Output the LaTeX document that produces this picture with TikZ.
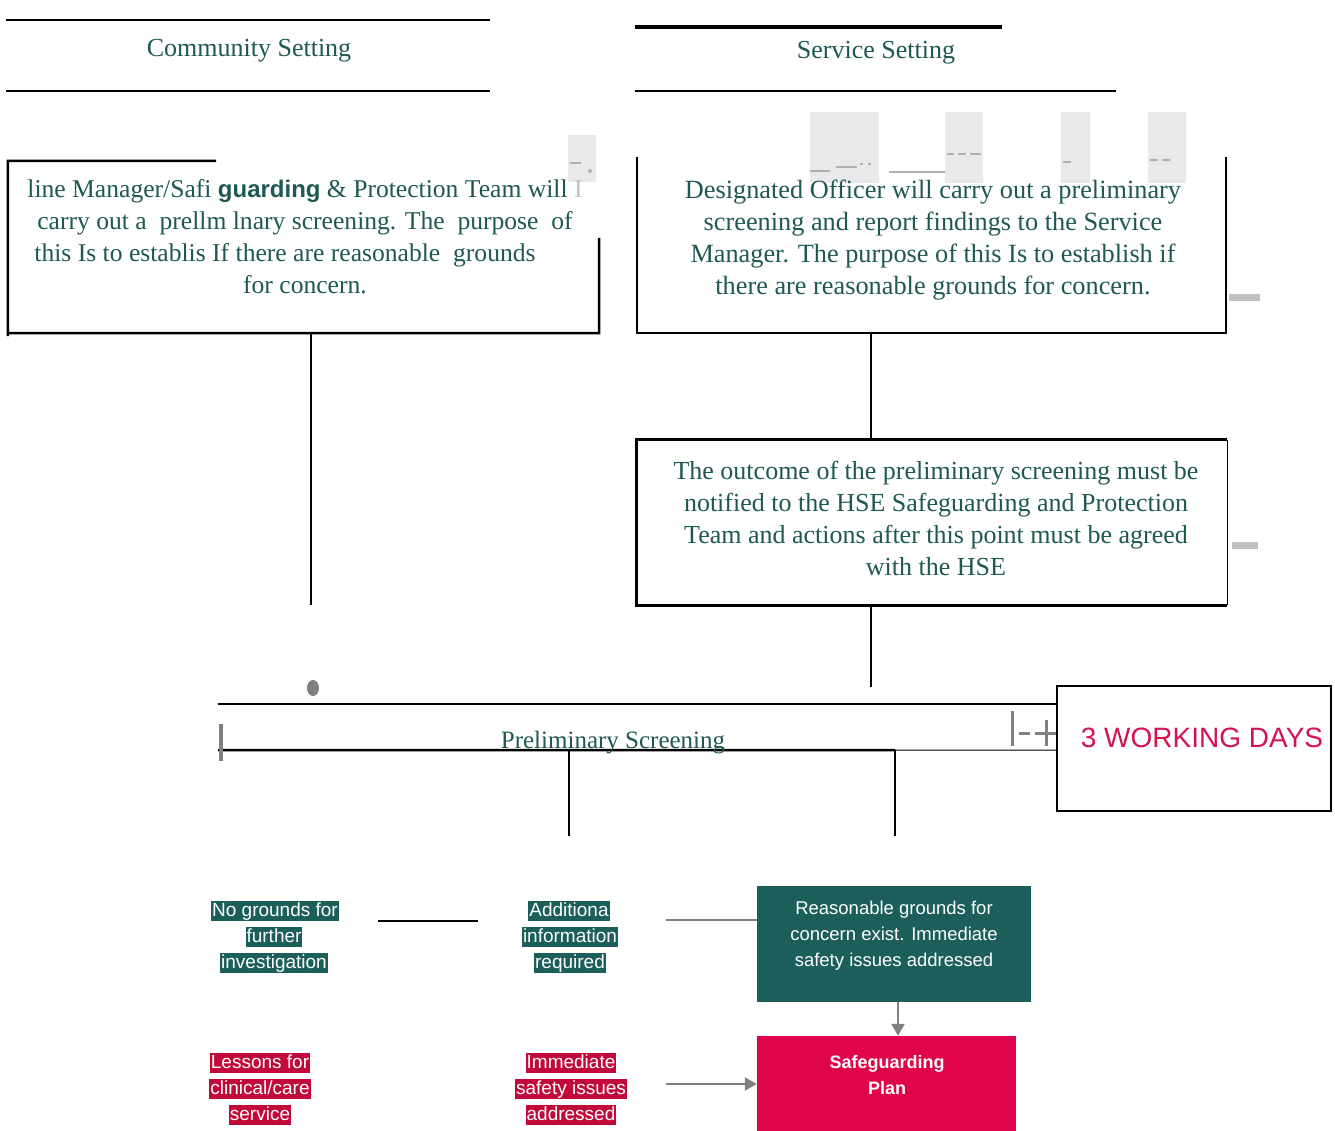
\documentclass[tikz,border=0pt]{standalone}
\usepackage{fontspec}
\setmainfont{Liberation Serif}
\newfontfamily\arialf{Liberation Sans}
\usetikzlibrary{arrows.meta}
\definecolor{teal1}{HTML}{1E5853}
\definecolor{tealbg}{HTML}{1B5E5A}
\definecolor{crim}{HTML}{C2093B}
\definecolor{crimbox}{HTML}{E0044A}
\definecolor{redtxt}{HTML}{D3124E}
\definecolor{artgray}{HTML}{E9E9EB}
\definecolor{dashgray}{HTML}{B0B0B0}
\definecolor{midgray}{HTML}{808080}
\tikzset{
  serif/.style={font=\fontsize{26}{32}\selectfont, text=teal1, align=center, inner sep=0pt},
  blk/.style={line width=2.5pt, draw=black},
  boxarea/.style={draw=none, inner sep=0pt},
  tag/.style={font=\arialf\fontsize{19}{22}\selectfont, text=white, inner xsep=1pt, inner ysep=0pt, text height=15pt, text depth=4.5pt},
  tealtag/.style={tag, fill=tealbg},
  redtag/.style={tag, fill=crim},
  artrect/.style={fill=artgray, draw=none},
  artdash/.style={draw=dashgray, line width=2.5pt},
  grayconn/.style={draw=midgray, line width=2.2pt},
  graytip/.style={-{Triangle[length=12pt,width=13pt]}}
}
\begin{document}
\begin{tikzpicture}[x=1pt,y=-1pt]
\useasboundingbox (0,0) rectangle (1335,1131);

% artifacts
\fill[artgray] (568,135) rectangle (596,182);
\fill[artgray] (810,112) rectangle (879,183);
\fill[artgray] (945,112) rectangle (983,183);
\fill[artgray] (1061,112) rectangle (1090,183);
\fill[artgray] (1148,112) rectangle (1186,183);
\draw[artdash] (570,163) -- (581,163);
\fill[dashgray] (590,171) circle (2);
\draw[artdash] (810,171) -- (830,171);
\draw[artdash,line width=1.2pt] (836,167) -- (857,167);
\draw[artdash] (860,164) -- (863,164) (868,164) -- (871,164);
\draw[artdash] (889,172) -- (945,172);
\draw[artdash] (947,154) -- (954,154) (958,154) -- (966,154) (970,154) -- (981,154);
\draw[artdash] (1063,162) -- (1071,162);
\draw[artdash,line width=2pt] (1150,160) -- (1158,160) (1162,160) -- (1170,160);
\fill[dashgray!80] (1229,294) rectangle (1260,301);
\fill[dashgray!80] (1232,542) rectangle (1258,549);

% headings
\draw[blk] (6,20) -- (490,20);
\draw[blk] (6,91) -- (490,91);
\node[serif] (comm) at (249,51) {Community Setting};
\draw[line width=4pt] (635,27) -- (1002,27);
\draw[blk] (635,91) -- (1116,91);
\node[serif] (serv) at (876,53) {Service Setting};

% left box
\node[boxarea, minimum width=591pt, minimum height=172pt] (lbox) at (303.5,247) {};
\draw[blk] (216,161) -- (lbox.north west) -- ([yshift=-3pt]lbox.south west);
\draw[blk] (lbox.south west) -- (lbox.south east) -- (599,238);
\node[serif, font=\fontsize{25.6}{32}\selectfont] (ltext) at (305,237) {line Manager/Safi {\arialf\bfseries\fontsize{24}{32}\selectfont guarding} \& Protection Team will {\color{gray!50}I}\\
carry out a\ \ prellm lnary screening. The\ \ purpose\ \ of\\
this Is to establis If there are reasonable\ \ grounds\rule{40pt}{0pt}\\
for concern.};

% right box
\node[boxarea, minimum width=589pt, minimum height=176pt] (rbox) at (931.5,245) {};
\draw[blk] (rbox.north west) -- (rbox.south west) -- (rbox.south east) -- (rbox.north east);
\node[serif, font=\fontsize{26.3}{32}\selectfont] (rtext) at (933,240) {Designated Officer will carry out a preliminary\\
screening and report findings to the Service\\
Manager. The purpose of this Is to establish if\\
there are reasonable grounds for concern.};

% middle box
\node[boxarea, minimum width=590pt, minimum height=165pt] (mbox) at (932,522.5) {};
\draw[line width=3pt] (mbox.north east) -- (mbox.north west) -- (mbox.south west) -- (mbox.south east);
\draw[line width=1pt] (mbox.north east) -- (mbox.south east);
\node[serif] (mtext) at (936,518) {The outcome of the preliminary screening must be\\
notified to the HSE Safeguarding and Protection\\
Team and actions after this point must be agreed\\
with the HSE};

% preliminary screening band
\node[boxarea, minimum width=839pt, minimum height=46pt] (ps) at (637.5,727) {};
\draw[blk] (ps.north west) -- (ps.north east);
\draw[blk] (ps.south west) -- (895,750);
\draw[line width=1pt] (895,750) -- (ps.south east);
\node[serif, font=\fontsize{25}{30}\selectfont] (pstext) at (613,743) {Preliminary Screening};
\fill[midgray] (313,688) ellipse (6 and 8);
\draw[line width=4pt, midgray] (221,724) -- (221,761);
\draw[line width=3pt, midgray] (1012,711) -- (1012,746);
\draw[line width=3pt, midgray] (1019,733) -- (1030,733) (1035,733) -- (1057,733) (1046,720) -- (1046,746);

% days box
\node[draw, line width=2.5pt, minimum width=274pt, minimum height=125pt] (days) at (1194,748.5) {};
\node[font=\arialf\fontsize{28}{32}\selectfont, text=redtxt] (daystext) at (1202,738) {3 WORKING DAYS};

% connectors
\coordinate (cx1) at (311,0);
\coordinate (cx2) at (871,0);
\coordinate (lend) at (311,605);
\draw[blk] (lbox.south -| cx1) -- (lend);
\draw[blk] (rbox.south -| cx2) -- (mbox.north -| cx2);
\draw[blk] (mbox.south -| cx2) -- ++(0,82);
\coordinate (b1) at (569,836);
\coordinate (b2) at (895,836);
\draw[blk] (ps.south -| b1) -- (b1);
\draw[blk] (ps.south -| b2) -- (b2);

% tags
\node[tealtag] (ng1) at (275,911) {No grounds for};
\node[tealtag] (ng2) at (274,937) {further};
\node[tealtag] (ng3) at (274,963) {investigation};
\node[tealtag] (ai1) at (569,911) {Additiona};
\node[tealtag] (ai2) at (570,937) {information};
\node[tealtag] (ai3) at (570,963) {required};
\node[redtag] (ls1) at (260,1063) {Lessons for};
\node[redtag] (ls2) at (260,1089) {clinical/care};
\node[redtag] (ls3) at (260,1115) {service};
\node[redtag] (im1) at (571,1063) {Immediate};
\node[redtag] (im2) at (571,1089) {safety issues};
\node[redtag] (im3) at (571,1115) {addressed};
\coordinate (hl1) at (378,921);
\coordinate (hl2) at (478,921);
\draw[blk] (hl1) -- (hl2);

% reasonable grounds / safeguarding
\node[fill=tealbg, minimum width=274pt, minimum height=116pt, inner sep=0pt] (rg) at (894,944) {};
\node[font=\arialf\fontsize{18.5}{26}\selectfont, text=white, align=center] (rgtext) at (894,936) {Reasonable grounds for\\concern exist. Immediate\\safety issues addressed};
\node[fill=crimbox, minimum width=259pt, minimum height=95pt, inner sep=0pt] (sg) at (886.5,1083.5) {};
\node[font=\arialf\bfseries\fontsize{18}{26}\selectfont, text=white, align=center] (sgtext) at (887,1075) {Safeguarding\\Plan};
\coordinate (ax) at (898,0);
\draw[grayconn, graytip] (rg.south -| ax) -- (sg.north -| ax);
\coordinate (gl1) at (666,920);
\draw[grayconn] (gl1) -- (rg.west |- gl1);
\coordinate (gl2) at (666,1084);
\draw[grayconn, graytip] (gl2) -- (sg.west |- gl2);
\end{tikzpicture}
\end{document}
